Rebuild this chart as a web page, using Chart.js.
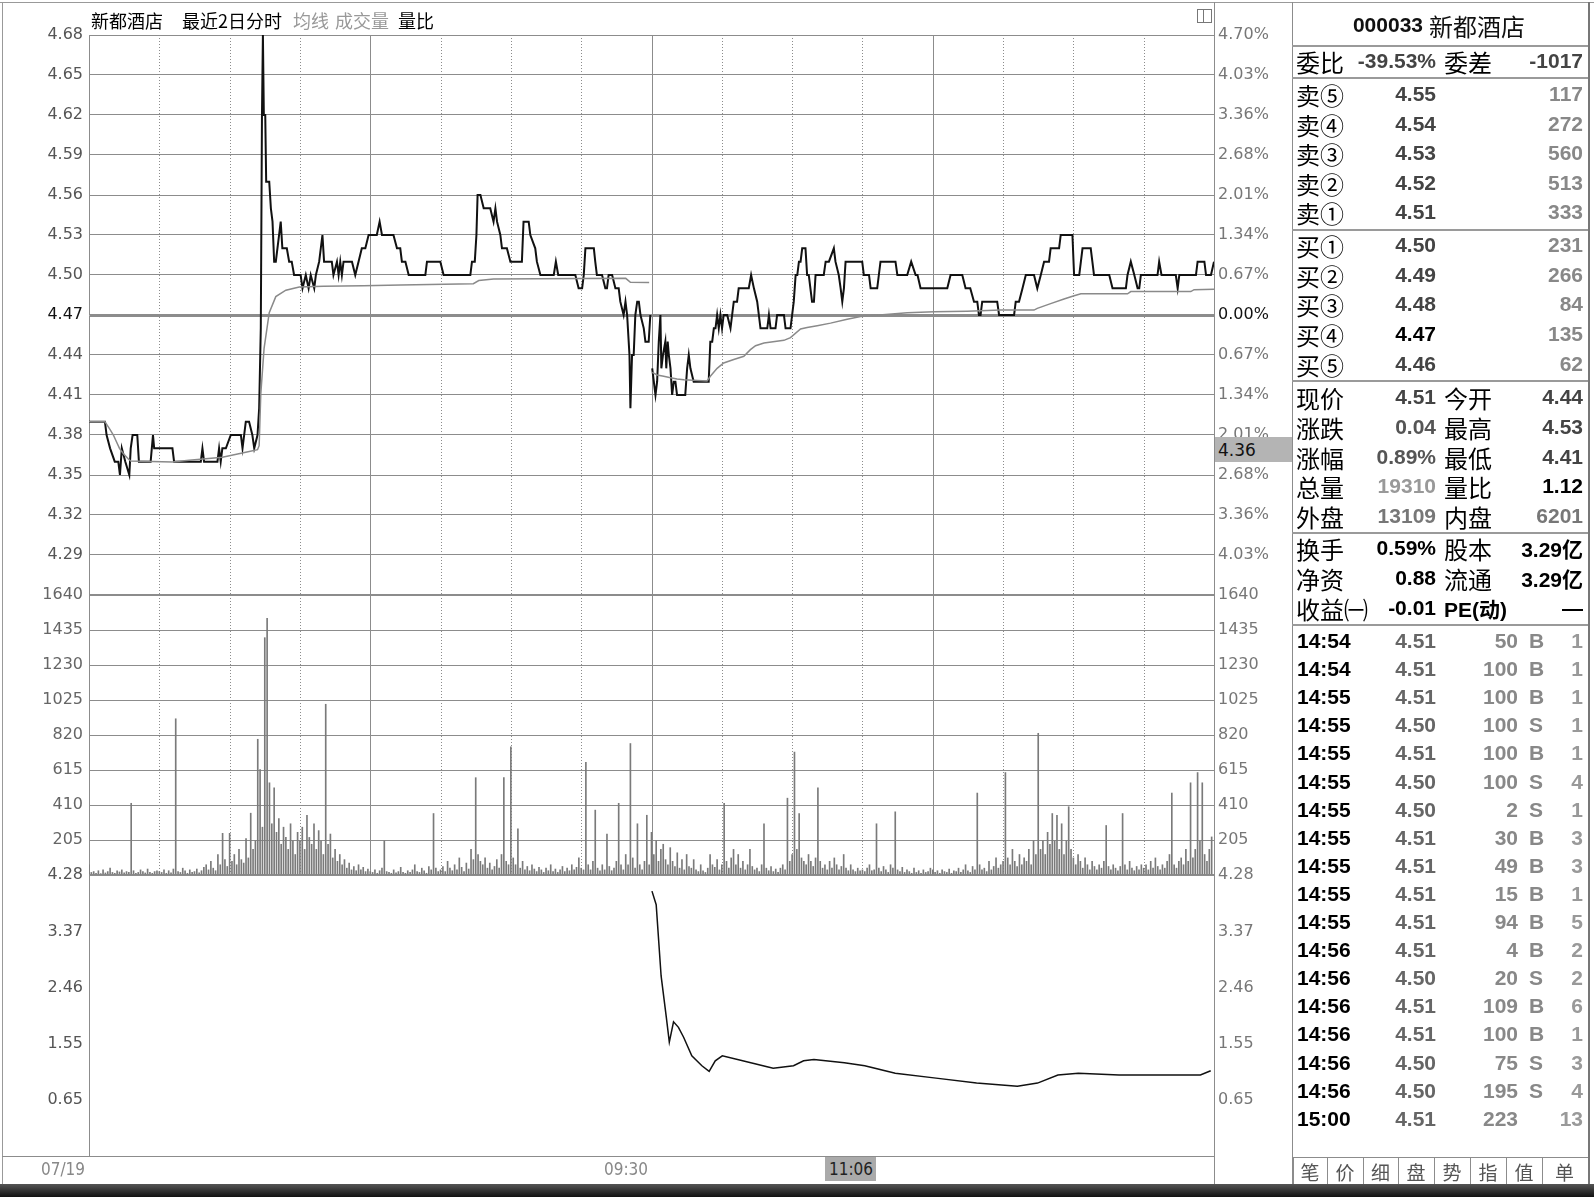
<!DOCTYPE html>
<html>
<head>
<meta charset="utf-8">
<script src="https://cdn.jsdelivr.net/npm/chart.js@4.4.1/dist/chart.umd.min.js"></script>
<style>
html, body { margin: 0; padding: 0; background: #fff; }
#wrap { position: relative; width: 1594px; height: 1197px; overflow: hidden; background: #fff; }
canvas { position: absolute; left: 0; top: 0; }
.ln { position: absolute; background: #8c8c8c; }
.t { position: absolute; white-space: nowrap; line-height: 1; }
</style>
</head>
<body>
<div id="wrap">
  <canvas id="cPrice" width="1292" height="1197"></canvas>
  <canvas id="cVol" width="1292" height="1197"></canvas>
  <canvas id="cRatio" width="1292" height="1197"></canvas>
</div>
<script>
// ---- 数据 ----
// 价格轴刻度（左）与涨跌幅（右）
const priceTicks = ['4.68','4.65','4.62','4.59','4.56','4.53','4.50','4.47','4.44','4.41','4.38','4.35','4.32','4.29'];
const pctTicks = ['4.70%','4.03%','3.36%','2.68%','2.01%','1.34%','0.67%','0.00%','0.67%','1.34%','2.01%','2.68%','3.36%','4.03%'];
const priceBottom = 4.26;
const prevClose = 4.47;
const volTicks = ['1640','1435','1230','1025','820','615','410','205'];
const ratioTicks = ['4.28','3.37','2.46','1.55','0.65'];
const ratioBottom = -0.2575;
const gridMinutes = [30,60,90,120,150,180,210,240,270,300,330,360,390,420,450];

// 第一日分时（分钟, 价格）
const priceT1 = [0,6.8,7.5,9,11,12.5,13.2,14,15.5,17.2,17.8,18.6,20.6,21.3,26.3,27.3,27.8,35.6,36.3,47.7,48.4,49.1,54.8,55.5,56.2,56.9,58.4,60.5,64.8,65.5,66.9,68.3,69.7,70.5,71.9,72.6,73.3,73.8,74.2,74.6,75.2,75.6,76.9,77.6,78.3,79,79.7,80.4,81.1,81.8,82.5,84.4,85.4,86.5,87.5,90.3,91.1,92.5,93.7,94.6,96.1,96.8,98.2,99.6,100.3,103.6,104.3,105.8,106.5,107.2,107.9,108.6,112.2,113.6,115,116.4,117.9,119.3,122.8,124,125,129.9,131.4,132.8,133.5,135,136.4,143.5,144.2,149.9,151.3,162.7,163.4,164.6,165.3,165.8,167,168.4,171.2,172.6,173.4,174.1,175.5,176.2,178.3,179.8,184.7,185.4,187.6,188.3,190.4,191.1,192.6,198.3,199.2,200.2,207.5,208.9,210.4,211.1,211.8,215.4,216,216.7,218.9,220.3,221,221.7,223.2,224.6,226,226.7,228.1,228.9,229.6,230.6,231,231.7,232.4,233.1,233.9,234.6,235.3,236.7,237.4,238.8,239.5];
const priceV1 = [4.39,4.39,4.38,4.37,4.36,4.36,4.35,4.37,4.36,4.35,4.37,4.38,4.38,4.36,4.36,4.38,4.37,4.37,4.36,4.36,4.37,4.36,4.36,4.37,4.36,4.37,4.37,4.38,4.38,4.37,4.39,4.39,4.38,4.37,4.38,4.40,4.46,4.62,4.68,4.62,4.62,4.57,4.57,4.55,4.54,4.51,4.51,4.52,4.53,4.54,4.52,4.52,4.51,4.51,4.50,4.50,4.49,4.50,4.49,4.50,4.49,4.50,4.51,4.53,4.51,4.51,4.50,4.51,4.50,4.51,4.50,4.51,4.51,4.50,4.51,4.52,4.52,4.53,4.53,4.54,4.53,4.53,4.52,4.52,4.51,4.51,4.50,4.50,4.51,4.51,4.50,4.50,4.51,4.51,4.53,4.56,4.56,4.55,4.55,4.54,4.55,4.54,4.53,4.52,4.52,4.51,4.51,4.54,4.54,4.53,4.52,4.51,4.50,4.50,4.51,4.50,4.50,4.49,4.49,4.50,4.52,4.52,4.51,4.50,4.50,4.49,4.49,4.50,4.50,4.49,4.49,4.48,4.47,4.48,4.47,4.44,4.40,4.44,4.44,4.47,4.48,4.48,4.47,4.46,4.45,4.45,4.47];
// 第一日均价
const avgT1 = [0,6.8,9,10.4,13,14.7,16.8,17.8,35.6,42.7,56.9,66.9,71.9,72.6,73.3,74.7,76.9,79.7,84,89.7,100,117,133,164,166.3,172.6,229,231,239];
const avgV1 = [4.39,4.39,4.384,4.38,4.37,4.366,4.362,4.3605,4.3598,4.361,4.3633,4.367,4.369,4.372,4.411,4.445,4.4717,4.4838,4.4886,4.491,4.4915,4.492,4.4925,4.4935,4.4958,4.497,4.4975,4.4945,4.4943];

// 第二日分时
const priceT2 = [240.3,241.7,242.4,243.1,243.8,244.2,244.9,245.9,246.3,246.9,247.4,248.1,248.8,249.5,250.2,250.9,254.4,255.2,255.9,256.6,258,264.4,265.1,265.9,266.6,267.3,268,268.7,269.4,270.1,270.8,272.3,273.7,274.4,275.1,276.5,277.2,281.5,282.5,283.7,285.1,285.8,286.5,289.4,290.1,290.8,292.9,293.6,296.5,297.2,299.3,300,300.7,301.5,302.2,302.9,303.6,304.3,305.7,306.4,307.1,307.8,308.5,309.3,310,313.5,314.3,315.7,317.8,318.5,319.9,320.7,321.4,322.1,322.8,329.9,330.6,332.8,333.5,336.3,337,337.7,344.1,344.9,349.1,350.8,352.7,353.5,354.8,366.2,367.6,372.6,374,376,377.6,379,379.7,380.4,381.1,387.5,388.3,394.7,395.4,396.8,398.3,399.7,401.8,403.2,404.6,406.1,407.5,409.6,410.3,413.9,414.6,419.6,420.3,422.5,423.9,427.4,428.1,428.8,435.3,436.7,442.4,443.1,444.5,446,447.4,448.1,448.8,455.9,456.6,457.6,463.7,464.5,465.2,472.3,473,475.9,476.6,478.7,480];
const priceV2 = [4.43,4.41,4.42,4.45,4.47,4.43,4.44,4.45,4.43,4.45,4.44,4.43,4.41,4.42,4.42,4.41,4.41,4.43,4.44,4.43,4.42,4.42,4.45,4.45,4.46,4.46,4.47,4.46,4.47,4.46,4.47,4.47,4.46,4.47,4.48,4.48,4.49,4.49,4.50,4.49,4.48,4.47,4.46,4.46,4.47,4.46,4.46,4.47,4.47,4.46,4.46,4.47,4.48,4.50,4.50,4.51,4.51,4.52,4.52,4.50,4.50,4.49,4.48,4.48,4.50,4.50,4.51,4.51,4.52,4.51,4.50,4.49,4.48,4.49,4.51,4.51,4.50,4.50,4.49,4.49,4.50,4.51,4.51,4.50,4.50,4.51,4.50,4.50,4.49,4.49,4.50,4.50,4.49,4.49,4.48,4.48,4.47,4.47,4.48,4.48,4.47,4.47,4.48,4.48,4.49,4.50,4.50,4.50,4.49,4.50,4.51,4.51,4.52,4.52,4.53,4.53,4.50,4.50,4.52,4.52,4.51,4.50,4.50,4.49,4.49,4.50,4.51,4.50,4.49,4.49,4.50,4.50,4.51,4.50,4.50,4.49,4.50,4.50,4.51,4.51,4.50,4.50,4.51];
const avgT2 = [240.3,242.4,245.2,248.1,250.9,253.8,263.7,265.1,268,270.8,275.1,279.4,282.2,284.4,288,296.5,299.3,303.6,306.4,310.7,316.4,323.5,329.2,332.1,349.1,360.5,374.7,389,403.2,404.6,410.3,416,420.3,423.2,443.1,444.5,470.1,471.5,480];
const avgV2 = [4.427,4.425,4.424,4.423,4.422,4.4215,4.4205,4.424,4.430,4.434,4.4366,4.439,4.444,4.447,4.449,4.451,4.453,4.4595,4.4607,4.462,4.4639,4.4668,4.4688,4.4693,4.4717,4.4724,4.4729,4.4737,4.4737,4.475,4.4785,4.482,4.4844,4.4859,4.4859,4.4876,4.4876,4.489,4.4893];

// 每分钟成交量（两日 480 分钟）
const volume = [
  60,15,20,10,25,8,30,12,20,40,15,10,25,18,30,12,20,15,420,25,10,15,30,20,12,35,15,10,20,25,
  20,15,30,10,25,12,35,915,20,15,40,25,10,30,15,20,35,12,25,45,60,30,80,40,25,120,60,244,90,50,
  244,80,120,60,150,90,70,214,100,362,150,200,795,618,280,1390,1503,540,300,510,250,330,180,280,220,150,300,200,120,250,
  200,280,150,350,220,180,300,150,260,200,120,1000,180,240,100,150,80,120,60,90,40,70,30,50,25,60,30,45,20,35,
  20,15,30,10,25,40,200,20,15,10,30,12,20,45,15,10,25,15,30,60,20,15,40,25,10,50,30,360,40,20,
  30,50,20,80,40,25,60,30,100,45,20,70,35,150,90,570,120,80,60,100,40,70,30,50,90,40,120,570,80,60,
  750,100,60,270,40,80,30,50,25,60,35,20,45,30,15,40,25,60,20,35,15,30,50,20,40,25,60,30,45,100,
  40,30,660,60,30,80,380,40,25,60,30,240,50,25,40,80,420,60,30,120,60,770,100,40,300,60,30,80,350,60,
  250,120,200,80,150,180,90,60,160,80,50,130,40,90,30,120,50,40,90,30,20,60,25,15,40,120,60,45,90,30,
  60,420,80,40,100,150,60,120,40,80,30,60,150,50,30,40,20,60,300,40,25,50,20,35,15,40,60,30,450,80,
  120,720,150,360,100,80,60,120,80,50,100,510,80,40,60,30,80,40,100,60,30,50,120,40,25,60,30,20,40,25,
  30,20,40,60,25,30,300,40,20,50,30,15,60,40,370,30,20,45,15,30,20,10,40,15,25,10,30,15,20,40,
  30,15,25,10,30,20,15,35,10,25,20,40,15,30,60,25,15,50,30,480,60,30,40,20,80,30,50,100,40,60,
  80,600,100,60,150,80,50,120,60,100,80,150,60,200,120,830,150,200,120,250,180,360,200,350,150,300,120,200,400,150,
  100,60,120,80,40,100,60,30,80,50,30,60,40,80,290,50,30,60,40,25,50,360,60,30,80,40,25,50,30,60,
  40,60,30,80,40,100,50,30,60,40,80,120,480,60,40,80,100,60,150,80,540,100,150,600,200,540,120,80,150,223
];

// 第二日量比
const ratioT = [240.2,242,244.1,246.3,247.6,249.4,251.5,253.7,257.2,261.5,264.6,267.2,270.2,278.9,291.9,300.6,304.9,309.3,322.3,331,344,361.4,378.7,396.1,404.7,413.4,422.1,439.5,461.2,474.2,478.6];
const ratioV = [4.02,3.8,2.65,1.99,1.58,1.91,1.82,1.66,1.36,1.2,1.11,1.28,1.36,1.28,1.16,1.2,1.28,1.3,1.25,1.2,1.08,1.0,0.92,0.87,0.92,1.05,1.08,1.05,1.05,1.05,1.12];

// 右侧盘口
const stockTitle = ['000033', '新都酒店'];
const orderRatio = ['委比', '-39.53%', '委差', '-1017'];
const askRows = [['卖⑤','4.55','117'],['卖④','4.54','272'],['卖③','4.53','560'],['卖②','4.52','513'],['卖①','4.51','333']];
const bidRows = [['买①','4.50','231'],['买②','4.49','266'],['买③','4.48','84'],['买④','4.47','135'],['买⑤','4.46','62']];
const statRows = [['现价','4.51','今开','4.44'],['涨跌','0.04','最高','4.53'],['涨幅','0.89%','最低','4.41'],['总量','19310','量比','1.12'],['外盘','13109','内盘','6201']];
const baseRows = [['换手','0.59%','股本','3.29亿'],['净资','0.88','流通','3.29亿'],['收益㈠','-0.01','PE(动)','—']];
const trades = [
  ['14:54','4.51','50','B','1'],['14:54','4.51','100','B','1'],['14:55','4.51','100','B','1'],
  ['14:55','4.50','100','S','1'],['14:55','4.51','100','B','1'],['14:55','4.50','100','S','4'],
  ['14:55','4.50','2','S','1'],['14:55','4.51','30','B','3'],['14:55','4.51','49','B','3'],
  ['14:55','4.51','15','B','1'],['14:55','4.51','94','B','5'],['14:56','4.51','4','B','2'],
  ['14:56','4.50','20','S','2'],['14:56','4.51','109','B','6'],['14:56','4.51','100','B','1'],
  ['14:56','4.50','75','S','3'],['14:56','4.50','195','S','4'],['15:00','4.51','223','','13']
];
const tabs = ['笔','价','细','盘','势','指','值','单'];
const titleParts = [['新都酒店','#000'],['最近2日分时','#000'],['均线','#999'],['成交量','#999'],['量比','#000']];
const timeLabels = ['07/19', '09:30'];
const cursorTime = '11:06';
const cursorPrice = '4.36';

// ---- 图表 ----
const GRID = '#8c8c8c';
const TICKFONT = { family: 'DejaVu Sans', size: 16 };

function pts(ts, vs) { return ts.map((t, i) => ({ x: t, y: vs[i] })); }
function fixW(w) { return s => { s.width = w; }; }
function setTicks(vals) { return s => { s.ticks = vals.map(v => ({ value: v })); }; }
function near(a, b) { return Math.abs(a - b) < 1e-6; }

const vGrid = {
  id: 'vGrid',
  beforeDatasetsDraw(chart) {
    const { ctx, chartArea: a, scales: { x } } = chart;
    ctx.save();
    ctx.lineWidth = 1;
    ctx.strokeStyle = GRID;
    gridMinutes.forEach(m => {
      const px = Math.round(x.getPixelForValue(m)) + 0.5;
      ctx.setLineDash(m % 120 === 0 ? [] : [1, 2]);
      ctx.beginPath();
      ctx.moveTo(px, a.top);
      ctx.lineTo(px, a.bottom);
      ctx.stroke();
    });
    ctx.restore();
  }
};

const baseOpts = (top, bottom) => ({
  responsive: false,
  animation: false,
  events: [],
  layout: { padding: { left: 0, right: 0, top: top, bottom: 1197 - bottom } },
  plugins: { legend: { display: false }, tooltip: { enabled: false } },
  elements: { point: { radius: 0 }, line: { tension: 0 } }
});

const xScale = { type: 'linear', min: 0, max: 480, display: false, offset: false };

// 价格区
const priceVals = [priceBottom].concat(priceTicks.map(Number));
const pOpts = baseOpts(35, 595);
pOpts.scales = {
  x: xScale,
  y: {
    position: 'left', min: priceBottom, max: Number(priceTicks[0]),
    afterFit: fixW(89), afterBuildTicks: setTicks(priceVals),
    ticks: {
      font: TICKFONT, padding: 6,
      color: c => near(c.tick.value, prevClose) ? '#111' : '#555',
      callback: v => near(v, priceBottom) ? '' : v.toFixed(2)
    },
    grid: {
      color: GRID, drawTicks: false,
      lineWidth: c => near(c.tick.value, prevClose) ? 3 : (near(c.tick.value, priceBottom) ? 2 : 1)
    },
    border: { display: true, color: GRID }
  },
  y1: {
    position: 'right', min: priceBottom, max: Number(priceTicks[0]),
    afterFit: fixW(78), afterBuildTicks: setTicks(priceVals),
    ticks: {
      font: TICKFONT, padding: 4,
      color: c => near(c.tick.value, prevClose) ? '#111' : '#777',
      callback: v => { const i = priceTicks.indexOf(v.toFixed(2)); return i < 0 ? '' : pctTicks[i]; }
    },
    grid: { display: false, drawTicks: false },
    border: { display: false }
  }
};
new Chart(document.getElementById('cPrice'), {
  type: 'line',
  data: { datasets: [
    { data: pts(avgT1, avgV1), borderColor: '#8a8a8a', borderWidth: 1.5 },
    { data: pts(avgT2, avgV2), borderColor: '#8a8a8a', borderWidth: 1.5 },
    { data: pts(priceT1, priceV1), borderColor: '#111', borderWidth: 2 },
    { data: pts(priceT2, priceV2), borderColor: '#111', borderWidth: 2 }
  ] },
  options: pOpts,
  plugins: [vGrid]
});

// 成交量区
const volVals = [0].concat(volTicks.map(Number));
const vOpts = baseOpts(595, 875);
const volLabel = v => (v === 0 ? '' : String(v));
vOpts.scales = {
  x: xScale,
  y: {
    position: 'left', min: 0, max: Number(volTicks[0]),
    afterFit: fixW(89), afterBuildTicks: setTicks(volVals),
    ticks: { font: TICKFONT, padding: 6, color: '#666', callback: volLabel },
    grid: { color: GRID, drawTicks: false, lineWidth: c => (c.tick.value === 0 || c.tick.value === 1640) ? 2 : 1 },
    border: { display: true, color: GRID }
  },
  y1: {
    position: 'right', min: 0, max: Number(volTicks[0]),
    afterFit: fixW(78), afterBuildTicks: setTicks(volVals),
    ticks: { font: TICKFONT, padding: 4, color: '#777', callback: volLabel },
    grid: { display: false, drawTicks: false },
    border: { display: false }
  }
};
new Chart(document.getElementById('cVol'), {
  type: 'bar',
  data: { datasets: [{
    data: volume.map((v, i) => ({ x: i, y: v })),
    backgroundColor: '#7a7a7a', barThickness: 1, grouped: false
  }] },
  options: vOpts,
  plugins: [vGrid]
});

// 量比区
const ratioVals = ratioTicks.map(Number);
const rOpts = baseOpts(875, 1156);
const ratioLabel = v => { const s = v.toFixed(2); return ratioTicks.includes(s) ? s : ''; };
rOpts.scales = {
  x: xScale,
  y: {
    position: 'left', min: ratioBottom, max: ratioVals[0],
    afterFit: fixW(89), afterBuildTicks: setTicks(ratioVals),
    ticks: { font: TICKFONT, padding: 6, color: '#555', callback: ratioLabel },
    grid: { display: false, drawTicks: false },
    border: { display: true, color: GRID }
  },
  y1: {
    position: 'right', min: ratioBottom, max: ratioVals[0],
    afterFit: fixW(78), afterBuildTicks: setTicks(ratioVals),
    ticks: { font: TICKFONT, padding: 4, color: '#777', callback: ratioLabel },
    grid: { display: false, drawTicks: false },
    border: { display: false }
  }
};
new Chart(document.getElementById('cRatio'), {
  type: 'line',
  data: { datasets: [{ data: pts(ratioT, ratioV), borderColor: '#111', borderWidth: 1.5 }] },
  options: rOpts
});

// ---- 文字与边框 ----
const wrap = document.getElementById('wrap');
function line(x, y, w, h, color) {
  const d = document.createElement('div');
  d.className = 'ln';
  d.style.cssText = `left:${x}px;top:${y}px;width:${w}px;height:${h}px;` + (color ? `background:${color};` : '');
  wrap.appendChild(d);
  return d;
}
function put(txt, x, y, font, color, align) {
  const s = document.createElement('div');
  s.className = 't';
  s.textContent = txt;
  s.style.left = x + 'px';
  s.style.top = y + 'px';
  s.style.font = font;
  s.style.color = color || '#000';
  s.style.transform = align === 'r' ? 'translate(-100%,-50%)' : align === 'c' ? 'translate(-50%,-50%)' : 'translateY(-50%)';
  wrap.appendChild(s);
  return s;
}
const CJK = '"Noto Sans CJK SC", sans-serif';
const NUMB = 'bold 21px "Liberation Sans", "Noto Sans CJK SC", sans-serif';

// 外框
line(0, 2, 1594, 1, '#999');
line(2, 2, 1, 1182, '#999');
line(2, 1156, 1212, 1, GRID);
line(1214, 2, 1, 1182, GRID);
line(1292, 2, 1, 1182, GRID);
line(1588, 2, 2, 1182, '#777');
const band = line(0, 1184, 1594, 13, '#222');
band.style.background = 'linear-gradient(#555, #111)';

// 标题
const titleX = [91, 182, 293, 335, 398];
titleParts.forEach((p, i) => put(p[0], titleX[i], 20, '18px ' + CJK, p[1]));

// 小图标
const ic = line(1197, 9, 13, 12, 'transparent');
ic.style.border = '1px solid #777';
line(1203, 10, 1, 12, '#777');

// 光标标签
line(1215, 437, 77, 25, '#b4b4b4');
put(cursorPrice, 1218, 450, '17px "DejaVu Sans", sans-serif', '#111');
line(825, 1157, 51, 24, '#aaa');
const TFONT = '17px "DejaVu Sans Condensed", "Liberation Sans Narrow", sans-serif';
put(cursorTime, 851, 1169, TFONT, '#222', 'c');
put(timeLabels[0], 63, 1169, TFONT, '#888', 'c');
put(timeLabels[1], 626, 1169, TFONT, '#888', 'c');

// 右侧盘口
const PL = 1296, PV = 1436, PL2 = 1444, PV2 = 1583;
put(stockTitle[0], 1423, 25, 'bold 21px "Liberation Sans", sans-serif', '#111', 'r');
put(stockTitle[1], 1429, 25, '24px ' + CJK, '#111');
[45, 77, 229, 380, 532, 624].forEach(y => line(1292, y, 296, 2, '#9a9a9a'));

put(orderRatio[0], PL, 61, '24px ' + CJK);
put(orderRatio[1], PV, 61, NUMB, '#444', 'r');
put(orderRatio[2], PL2, 61, '24px ' + CJK);
put(orderRatio[3], PV2, 61, NUMB, '#444', 'r');

const askY = [94, 124, 153, 183, 212];
askRows.forEach((r, i) => {
  put(r[0], PL, askY[i], '24px ' + CJK);
  put(r[1], PV, askY[i], NUMB, '#444', 'r');
  put(r[2], PV2, askY[i], NUMB, '#888', 'r');
});
const bidY = [245, 275, 304, 334, 364];
bidRows.forEach((r, i) => {
  put(r[0], PL, bidY[i], '24px ' + CJK);
  put(r[1], PV, bidY[i], NUMB, r[1] === prevClose.toFixed(2) ? '#000' : '#444', 'r');
  put(r[2], PV2, bidY[i], NUMB, '#888', 'r');
});
const statY = [397, 427, 457, 486, 516];
const statColors = [['#444', '#444'], ['#555', '#444'], ['#555', '#444'], ['#999', '#000'], ['#777', '#777']];
statRows.forEach((r, i) => {
  put(r[0], PL, statY[i], '24px ' + CJK);
  put(r[1], PV, statY[i], NUMB, statColors[i][0], 'r');
  put(r[2], PL2, statY[i], '24px ' + CJK);
  put(r[3], PV2, statY[i], NUMB, statColors[i][1], 'r');
});
const baseY = [548, 578, 608];
baseRows.forEach((r, i) => {
  put(r[0], PL, baseY[i], '24px ' + CJK);
  put(r[1], PV, baseY[i], NUMB, '#000', 'r');
  put(r[2], PL2, baseY[i], i === 2 ? NUMB : '24px ' + CJK);
  put(r[3], PV2, baseY[i], NUMB, '#000', 'r');
});

trades.forEach((r, i) => {
  const y = 641 + 28.1 * i;
  put(r[0], 1297, y, NUMB, '#000');
  put(r[1], PV, y, NUMB, '#666', 'r');
  put(r[2], 1518, y, NUMB, '#888', 'r');
  if (r[3]) put(r[3], 1529, y, NUMB, '#888');
  put(r[4], PV2, y, 'bold 21px "Liberation Sans", sans-serif', '#999', 'r');
});

// 底部标签页
const tabX = [1293, 1327, 1363, 1398, 1434, 1470, 1506, 1542, 1587];
line(1292, 1157, 296, 1, GRID);
tabs.forEach((t, i) => {
  line(tabX[i], 1157, 1, 27, GRID);
  put(t, (tabX[i] + tabX[i + 1]) / 2, 1171, '19px ' + CJK, '#555', 'c');
});
</script>
</body>
</html>
